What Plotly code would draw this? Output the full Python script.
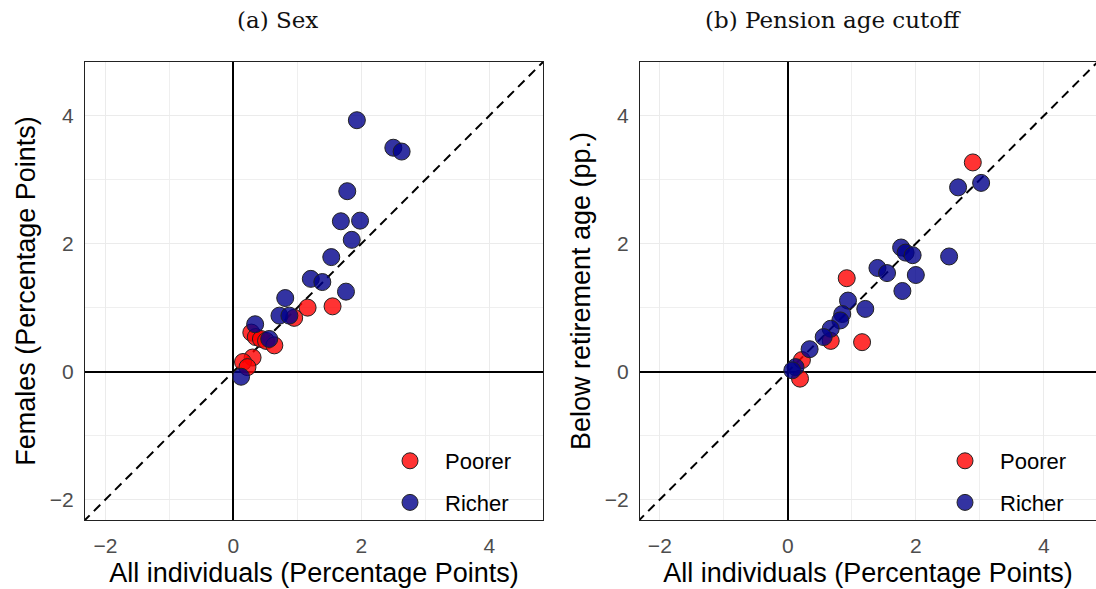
import plotly.graph_objects as go

# ---- Data: panel (a) Sex ----
a_rich_x = [1.93, 2.50, 2.63, 1.78, 1.68, 1.98, 1.85, 1.53, 1.21, 1.39, 1.76, 0.81, 0.72, 0.875, 0.34, 0.56, 0.12]
a_rich_y = [3.93, 3.50, 3.44, 2.82, 2.35, 2.36, 2.06, 1.79, 1.45, 1.40, 1.25, 1.15, 0.875, 0.875, 0.74, 0.51, -0.08]
a_poor_x = [1.55, 1.16, 0.95, 0.28, 0.35, 0.43, 0.51, 0.64, 0.30, 0.15, 0.22]
a_poor_y = [1.02, 1.00, 0.84, 0.61, 0.54, 0.51, 0.48, 0.41, 0.22, 0.15, 0.07]

# ---- Data: panel (b) Pension age cutoff ----
b_rich_x = [3.02, 2.66, 1.77, 1.84, 1.95, 2.52, 1.40, 1.55, 2.00, 1.79, 0.94, 1.21, 0.85, 0.82, 0.67, 0.56, 0.34, 0.12, 0.07]
b_rich_y = [2.95, 2.88, 1.94, 1.86, 1.82, 1.80, 1.62, 1.54, 1.51, 1.26, 1.11, 0.98, 0.90, 0.80, 0.67, 0.54, 0.35, 0.07, 0.02]
b_poor_x = [2.89, 0.92, 1.16, 0.67, 0.22, 0.19]
b_poor_y = [3.27, 1.46, 0.46, 0.48, 0.18, -0.11]

diag = [-5, 7]
axis_range_a = [-2.32, 4.84]
axis_range_b_x = [-2.31, 4.815]
tick_vals = [-2, 0, 2, 4]
minor_vals = [-1, 1, 3]

titles = ["(a) Sex", "(b) Pension age cutoff"]
x_title = "All individuals (Percentage Points)"
y_titles = ["Females (Percentage Points)", "Below retirement age (pp.)"]

RED = "rgba(255,0,0,0.8)"
BLUE = "rgba(0,0,139,0.8)"
W, H = 1096, 589
SANS = "Liberation Sans, Arial"

fig = go.Figure()

def add_panel(xa, ya, leg, px, py, rx, ry):
    fig.add_trace(go.Scatter(x=diag, y=diag, mode="lines", xaxis=xa, yaxis=ya,
                             line=dict(color="black", width=2, dash="9px,6px"),
                             showlegend=False, hoverinfo="skip"))
    fig.add_trace(go.Scatter(x=px, y=py, mode="markers", name="Poorer", xaxis=xa, yaxis=ya,
                             legend=leg, legendgroup=leg + "p",
                             marker=dict(size=17, color=RED, line=dict(color="#222222", width=1))))
    fig.add_trace(go.Scatter(x=rx, y=ry, mode="markers", name="Richer", xaxis=xa, yaxis=ya,
                             legend=leg, legendgroup=leg + "r",
                             marker=dict(size=17, color=BLUE, line=dict(color="#222222", width=1))))

add_panel("x", "y", "legend", a_poor_x, a_poor_y, a_rich_x, a_rich_y)
add_panel("x2", "y2", "legend2", b_poor_x, b_poor_y, b_rich_x, b_rich_y)

def ax(domain, rng, title, anchor, standoff, lblstand):
    return dict(domain=domain, range=rng, tickvals=tick_vals, showgrid=True,
                gridcolor="#EBEBEB", gridwidth=1.2,
                minor=dict(tickvals=minor_vals, showgrid=True, gridcolor="#EFEFEF", gridwidth=1),
                zeroline=True, zerolinecolor="black", zerolinewidth=2,
                showline=True, mirror=True, linecolor="#222222", linewidth=1,
                ticks="", ticklabelstandoff=lblstand,
                tickfont=dict(family=SANS, size=21, color="#4D4D4D"),
                title=dict(text=title, standoff=standoff,
                           font=dict(family=SANS, size=27, color="black")),
                anchor=anchor)

ydom = [1 - 520 / H, 1 - 62 / H]
fig.update_layout(
    width=W, height=H,
    margin=dict(l=0, r=0, t=0, b=0),
    plot_bgcolor="white", paper_bgcolor="white",
    xaxis=ax([85 / W, 543 / W], axis_range_a, x_title, "y", 6, 7),
    yaxis=ax(ydom, axis_range_a, y_titles[0], "x", 6, 6),
    xaxis2=ax([640 / W, 1.0], axis_range_b_x, x_title, "y2", 6, 7),
    yaxis2=ax(ydom, axis_range_a, y_titles[1], "x2", 6, 6),
)

leg_common = dict(font=dict(family=SANS, size=22, color="black"),
                  bgcolor="rgba(0,0,0,0)", itemwidth=60, tracegroupgap=10,
                  traceorder="grouped", xanchor="left", yanchor="top")
fig.update_layout(
    legend=dict(x=375 / W, y=1 - 440 / H, **leg_common),
    legend2=dict(x=930 / W, y=1 - 440 / H, **leg_common),
)

for t, cx in zip(titles, [277, 833]):
    fig.add_annotation(text=t, x=cx / W, y=1 - 20 / H, xref="paper", yref="paper",
                       xanchor="center", yanchor="middle", showarrow=False,
                       font=dict(family="DejaVu Serif", size=23, color="#111111"))

fig.write_html("out.html")
